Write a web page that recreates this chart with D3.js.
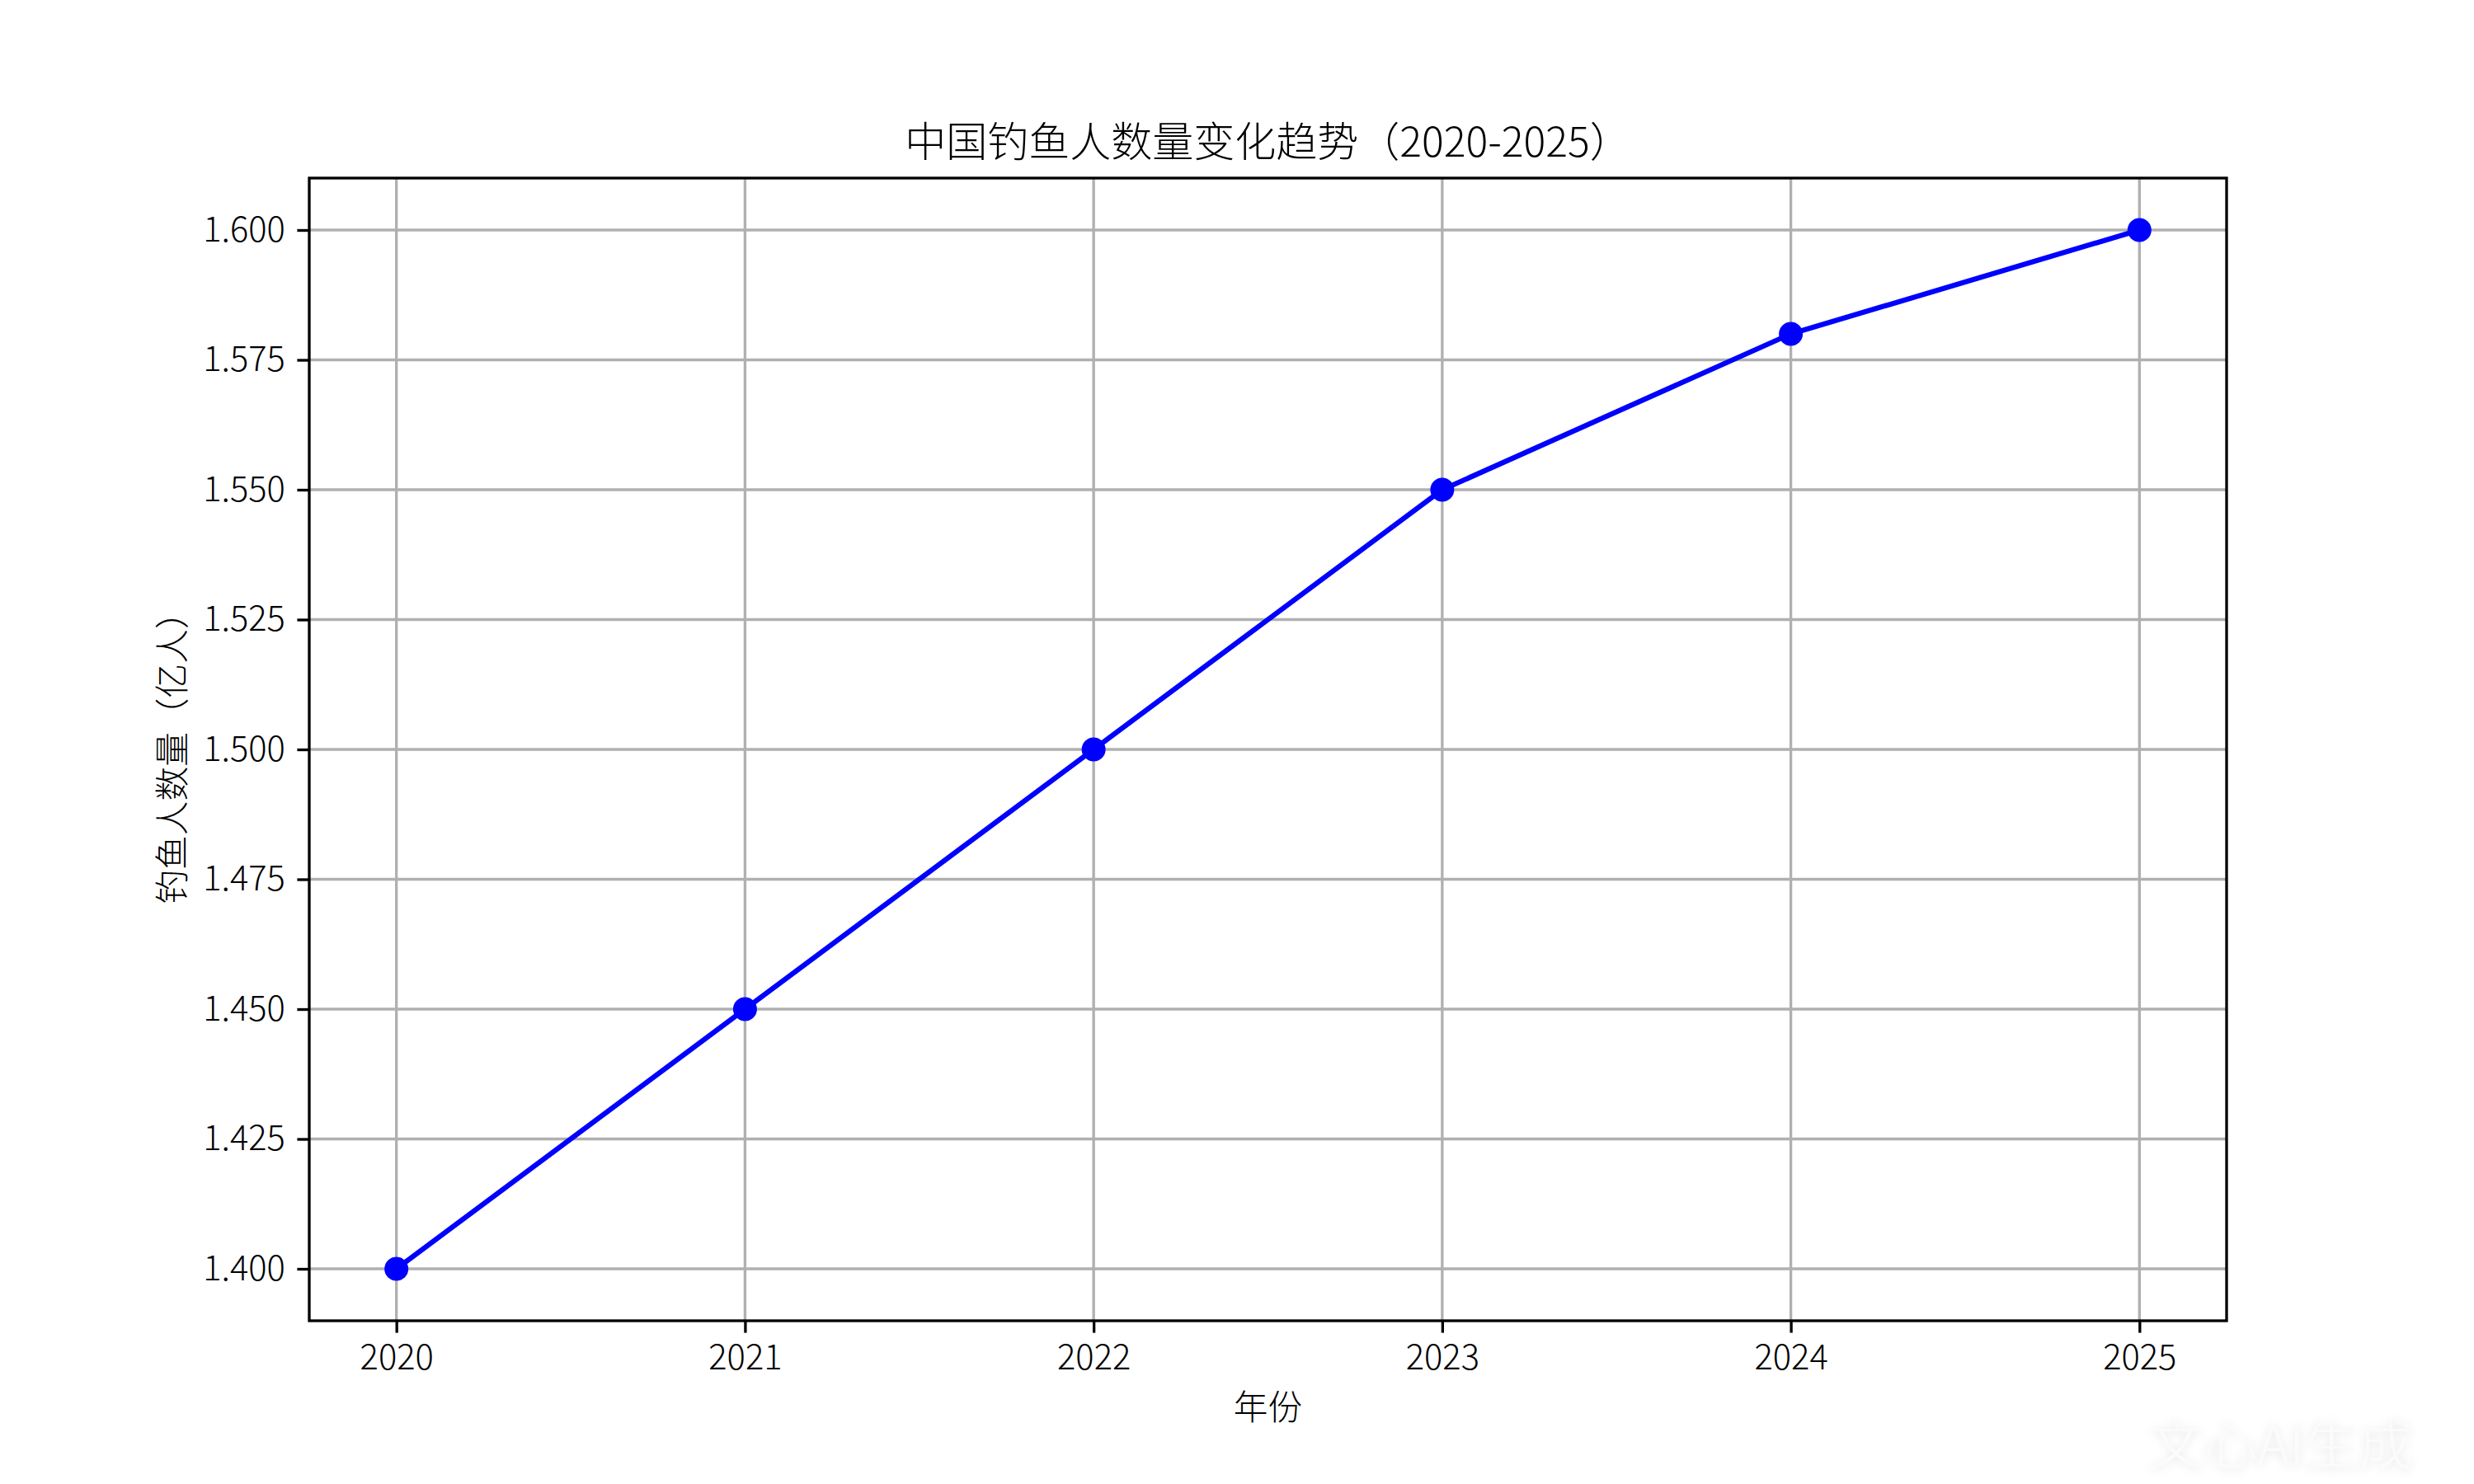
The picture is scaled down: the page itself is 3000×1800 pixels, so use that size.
<!DOCTYPE html>
<html>
<head>
<meta charset="utf-8">
<script src="https://cdn.jsdelivr.net/npm/d3@7"></script>
<style>
  html, body { margin: 0; padding: 0; background: #fff; }
  text { font-family: "Noto Sans CJK SC Light", "Noto Sans CJK SC DemiLight", "Noto Sans CJK SC", sans-serif; font-weight: 200; }
</style>
</head>
<body>
<script>
const years = [2020, 2021, 2022, 2023, 2024, 2025];
const anglers = [1.40, 1.45, 1.50, 1.55, 1.58, 1.60];
const yTicks = [1.400, 1.425, 1.450, 1.475, 1.500, 1.525, 1.550, 1.575, 1.600];
const xTicks = [2020, 2021, 2022, 2023, 2024, 2025];
const title = "中国钓鱼人数量变化趋势（2020-2025）";
const xLabel = "年份";
const yLabel = "钓鱼人数量（亿人）";
const watermark = "文心AI生成";

(function () {
const W = 3000, H = 1800;
const mL = 375, mR = 2700, mT = 216, mB = 1602;
const fs = 41.7;

const svg = d3.select("body").append("svg").attr("width", W).attr("height", H);
svg.append("rect").attr("width", W).attr("height", H).attr("fill", "#fff");

const x = d3.scaleLinear().domain([2019.75, 2025.25]).range([mL, mR]);
const y = d3.scaleLinear().domain([1.39, 1.61]).range([mB, mT]);

// grid
const g = svg.append("g");
g.selectAll(".gx").data(xTicks).join("line")
  .attr("x1", d => x(d)).attr("x2", d => x(d)).attr("y1", mT).attr("y2", mB)
  .attr("stroke", "#b0b0b0").attr("stroke-width", 3.33);
g.selectAll(".gy").data(yTicks).join("line")
  .attr("x1", mL).attr("x2", mR).attr("y1", d => y(d)).attr("y2", d => y(d))
  .attr("stroke", "#b0b0b0").attr("stroke-width", 3.33);

// axes
const xAxis = d3.axisBottom(x).tickValues(xTicks).tickFormat(d3.format("d")).tickSizeInner(14.6).tickSizeOuter(0).tickPadding(14.6);
const yAxis = d3.axisLeft(y).tickValues(yTicks).tickFormat(d3.format(".3f")).tickSizeInner(14.6).tickSizeOuter(0).tickPadding(14.6);

const gx = svg.append("g").attr("transform", `translate(0,${mB})`).call(xAxis);
const gy = svg.append("g").attr("transform", `translate(${mL},0)`).call(yAxis);
[gx, gy].forEach(a => {
  a.select(".domain").remove();
  a.selectAll(".tick line").attr("stroke", "#000").attr("stroke-width", 3.33);
  a.selectAll(".tick text").attr("font-size", fs).attr("fill", "#000")
    .attr("font-family", null)
    .style("font-family", '"Noto Sans CJK SC Light", "Noto Sans CJK SC DemiLight", "Noto Sans CJK SC", sans-serif')
    .style("font-weight", 200);
});
gx.selectAll(".tick text").attr("dy", "0.72em");

// line
const line = d3.line().x((d, i) => x(years[i])).y(d => y(d));
svg.append("path").datum(anglers).attr("d", line)
  .attr("fill", "none").attr("stroke", "#0000ff").attr("stroke-width", 6.25)
  .attr("stroke-linejoin", "round").attr("stroke-linecap", "butt");
svg.selectAll(".pt").data(anglers).join("circle")
  .attr("cx", (d, i) => x(years[i])).attr("cy", d => y(d)).attr("r", 14.5)
  .attr("fill", "#0000ff");

// frame
svg.append("rect").attr("x", mL).attr("y", mT).attr("width", mR - mL).attr("height", mB - mT)
  .attr("fill", "none").attr("stroke", "#000").attr("stroke-width", 3.33);

// labels
svg.append("text").attr("x", (mL + mR) / 2).attr("y", 190).attr("text-anchor", "middle")
  .attr("font-size", 50).attr("fill", "#000").text(title);
svg.append("text").attr("x", (mL + mR) / 2).attr("y", 1722).attr("text-anchor", "middle")
  .attr("font-size", fs).attr("fill", "#000").text(xLabel);
svg.append("text").attr("transform", `translate(224,${(mT + mB) / 2}) rotate(-90)`)
  .attr("text-anchor", "middle").attr("font-size", fs).attr("fill", "#000").text(yLabel);

// watermark
const defs = svg.append("defs");
const f = defs.append("filter").attr("id", "wm").attr("x", "-20%").attr("y", "-40%").attr("width", "140%").attr("height", "180%");
f.append("feDropShadow").attr("dx", 0).attr("dy", 2).attr("stdDeviation", 6).attr("flood-color", "#000").attr("flood-opacity", 0.12);
svg.append("text").attr("x", 2766).attr("y", 1776).attr("text-anchor", "middle")
  .attr("font-size", 66).style("font-weight", 500).attr("fill", "#fbfbfb").attr("filter", "url(#wm)").text(watermark);
})();
</script>
</body>
</html>
